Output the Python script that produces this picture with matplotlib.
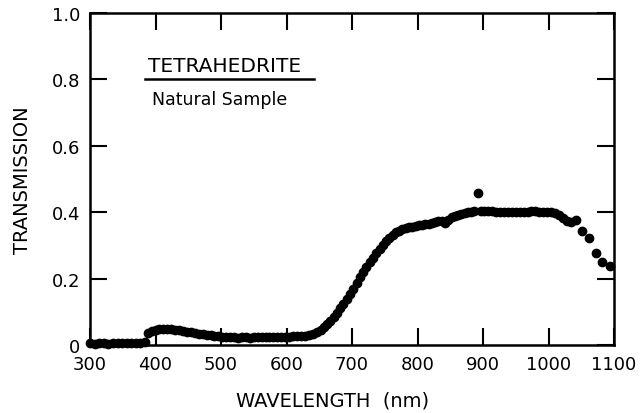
import matplotlib
matplotlib.use("Agg")
import matplotlib.pyplot as plt
import numpy as np

wavelength = [300, 307, 314, 321, 328, 335, 342, 349, 356, 363, 370, 377, 384,
              388, 394, 400, 406, 412, 418, 424, 430, 436, 442, 448, 454, 460,
              466, 472, 478, 484, 490, 496, 502, 508, 514, 520, 526, 532, 538,
              544, 550, 556, 562, 568, 574, 580, 586, 592, 598, 604, 610, 616,
              622, 628, 634, 640, 646, 652, 657, 662, 667, 672, 677, 682, 687,
              692, 697, 702, 707, 712, 717, 722, 727, 732, 737, 742, 747, 752,
              757, 762, 767, 772, 777, 782, 787, 792, 797, 802, 807, 812, 817,
              822, 827, 832, 837, 842, 847, 852, 857, 862, 867, 872, 877, 882,
              887, 892, 897, 902, 908, 914, 920, 926, 932, 938, 944, 950, 956,
              962, 968, 974, 980, 986, 992, 998, 1004, 1010, 1016, 1022, 1028,
              1034, 1042, 1051, 1062, 1072, 1082, 1094]
transmission = [0.005, 0.004, 0.005, 0.005, 0.004, 0.005, 0.005, 0.006, 0.005,
                0.006, 0.006, 0.007, 0.008,
                0.036, 0.042, 0.045, 0.047, 0.048, 0.048, 0.047, 0.046, 0.044,
                0.042, 0.040, 0.038, 0.036, 0.034, 0.032, 0.030, 0.029, 0.027,
                0.026, 0.025, 0.024, 0.023, 0.023, 0.022, 0.023, 0.023, 0.022,
                0.023, 0.023, 0.023, 0.024, 0.023, 0.024, 0.024, 0.025, 0.025,
                0.025, 0.026, 0.027, 0.027, 0.028, 0.030, 0.033, 0.038, 0.045,
                0.053, 0.062, 0.072, 0.084, 0.097, 0.110, 0.125, 0.140, 0.155,
                0.170, 0.188, 0.205, 0.220, 0.235, 0.250, 0.263, 0.276, 0.288,
                0.300, 0.312, 0.323, 0.332, 0.339, 0.344, 0.348, 0.351, 0.354,
                0.356, 0.358, 0.360, 0.361, 0.363, 0.365, 0.367, 0.370, 0.372,
                0.374, 0.366, 0.376, 0.385, 0.390, 0.393, 0.396, 0.399, 0.401,
                0.402, 0.403, 0.458, 0.405, 0.404, 0.403, 0.403, 0.402, 0.402,
                0.402, 0.402, 0.402, 0.402, 0.402, 0.402, 0.402, 0.403, 0.403,
                0.402, 0.402, 0.401, 0.400, 0.397, 0.392, 0.384, 0.374, 0.370,
                0.377, 0.343, 0.322, 0.277, 0.250, 0.238]

x_ticks = [300, 400, 500, 600, 700, 800, 900, 1000, 1100]
y_ticks = [0, 0.2, 0.4, 0.6, 0.8, 1.0]
y_labels = ["0", "0.2", "0.4", "0.6", "0.8", "1.0"]

fig = plt.figure(figsize=(6.43, 4.14), dpi=100)
ax = fig.add_axes([90/643, 1 - 346/414, 524/643, 332/414])

ax.plot(wavelength, transmission, 'o', color='black', markersize=6,
        clip_on=False)

ax.set_xlim(300, 1100)
ax.set_ylim(0, 1.0)
ax.set_xticks(x_ticks)
ax.set_yticks(y_ticks)
ax.set_yticklabels(y_labels)
ax.tick_params(direction='in', length=12, width=1.5, labelsize=13, pad=7,
               top=True, right=True)
for s in ax.spines.values():
    s.set_linewidth(1.8)

ax.set_xlabel("WAVELENGTH  (nm)", fontsize=14)
ax.xaxis.set_label_coords(0.462, -0.138)
ax.set_ylabel("TRANSMISSION", fontsize=14)
ax.yaxis.set_label_coords(-0.11, 0.5)

ax.text(388, 0.812, "TETRAHEDRITE", fontsize=14.5, ha='left', va='bottom')
ax.plot([384, 642], [0.8, 0.8], color='black', lw=1.8)
ax.text(395, 0.74, "Natural Sample", fontsize=12.5, ha='left', va='center')

fig.savefig("out.png", dpi=100)
